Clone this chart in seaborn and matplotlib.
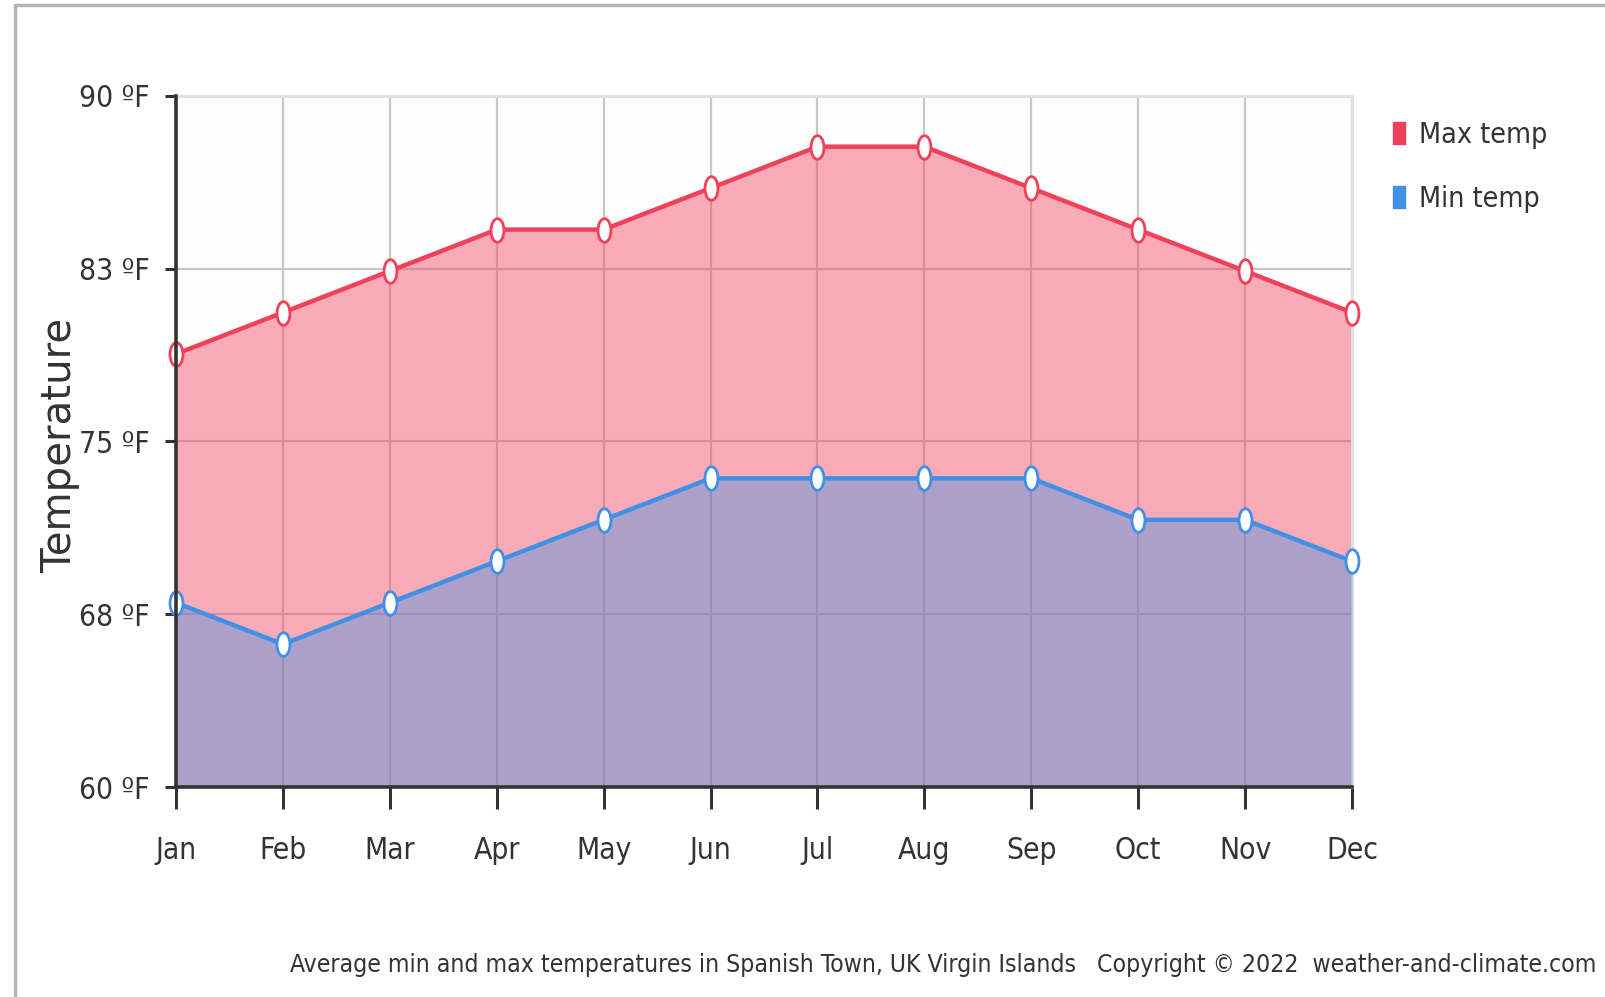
import numpy as np
import pandas as pd
import matplotlib
matplotlib.use("Agg")
import matplotlib.pyplot as plt
from matplotlib.lines import Line2D
from matplotlib.path import Path
from matplotlib.transforms import Affine2D
import seaborn as sns

months = ["Jan", "Feb", "Mar", "Apr", "May", "Jun", "Jul", "Aug", "Sep", "Oct", "Nov", "Dec"]
max_temp = [78.8, 80.6, 82.4, 84.2, 84.2, 86.0, 87.8, 87.8, 86.0, 84.2, 82.4, 80.6]
min_temp = [68.0, 66.2, 68.0, 69.8, 71.6, 73.4, 73.4, 73.4, 73.4, 71.6, 71.6, 69.8]
y_ticks = [60, 67.5, 75, 82.5, 90]
y_tick_labels = ["60 ºF", "68 ºF", "75 ºF", "83 ºF", "90 ºF"]
series_names = ["Max temp", "Min temp"]
caption = ("Average min and max temperatures in Spanish Town, UK Virgin Islands   "
           "Copyright © 2022  weather-and-climate.com")

RED = "#f0405a"
BLUE = "#4090e8"
TXT = "#333333"

sns.set_theme(style="white")
plt.rcParams["font.family"] = ["DejaVu Sans"]
plt.rcParams["font.stretch"] = "condensed"

df = pd.DataFrame({"idx": np.arange(len(months)), "month": months,
                   "max": max_temp, "min": min_temp})

ellipse = Path.unit_circle().transformed(Affine2D().scale(0.55, 1.0))

W, H = 1605, 997
fig = plt.figure(figsize=(W / 100, H / 100), dpi=100)
fig.patch.set_facecolor("white")

L, R, T, B = 176, 1352, 96, 787
ax = fig.add_axes([L / W, 1 - B / H, (R - L) / W, (B - T) / H])
ax.set_facecolor("#fdfdfd")

ax.set_axisbelow(True)
ax.grid(True, color="#c8c8c8", linewidth=1.6)

ax.fill_between(df["idx"], df["max"], 60, color=RED, alpha=0.43, linewidth=0, zorder=2)
ax.fill_between(df["idx"], df["min"], 60, color=BLUE, alpha=0.40, linewidth=0, zorder=3)

for col, c in (("max", RED), ("min", BLUE)):
    sns.lineplot(data=df, x="idx", y=col, ax=ax, color=c, linewidth=3.2,
                 marker=ellipse, markersize=17, markerfacecolor="white",
                 markeredgecolor=c, markeredgewidth=2, zorder=5, clip_on=False)

ax.set_xlim(0, len(months) - 1)
ax.set_ylim(60, 90)
ax.set_xticks(df["idx"])
ax.set_xticklabels(months, fontsize=21.5, color=TXT)
ax.set_yticks(y_ticks)
ax.set_yticklabels(y_tick_labels, fontsize=21.5, color=TXT)
ax.tick_params(axis="x", direction="out", length=16, width=2.2, color=TXT,
               bottom=True, pad=19)
ax.tick_params(axis="y", direction="out", length=8, width=2.2, color=TXT,
               left=True, pad=11)
ax.set_xlabel("")
ax.set_ylabel("Temperature", fontsize=29, color=TXT, fontstretch="normal")
ax.yaxis.set_label_coords((80 - L) / (R - L), (B - 445) / (B - T))

for s in ["top", "right"]:
    ax.spines[s].set_color("#e0e0e0")
    ax.spines[s].set_linewidth(2.2)
for s in ["left", "bottom"]:
    ax.spines[s].set_color(TXT)
    ax.spines[s].set_linewidth(2.6)
    ax.spines[s].set_zorder(6)

square = Path.unit_rectangle().transformed(Affine2D().translate(-0.5, -0.5).scale(0.57, 1.0))
handles = [Line2D([], [], linestyle="none", marker=square, markersize=16,
                  markerfacecolor=c, markeredgecolor=c) for c in (RED, BLUE)]
fig.legend(handles, series_names, loc="upper left",
           bbox_to_anchor=(1378 / W, 1 - 110 / H), frameon=False,
           fontsize=20.5, handlelength=0.7, handletextpad=0.35, labelspacing=1.25,
           labelcolor=TXT, borderaxespad=0)

fig.text(1596 / W, 1 - 965 / H, caption, ha="right", va="center",
         fontsize=17.7, color=TXT)

fig.add_artist(Line2D([15 / W, 1], [1 - 5 / H, 1 - 5 / H], transform=fig.transFigure,
                      color="#b4b4b4", linewidth=2.5))
fig.add_artist(Line2D([15 / W, 15 / W], [0, 1 - 5 / H], transform=fig.transFigure,
                      color="#b4b4b4", linewidth=2.5))

fig.savefig("out.png", dpi=100, facecolor="white")
